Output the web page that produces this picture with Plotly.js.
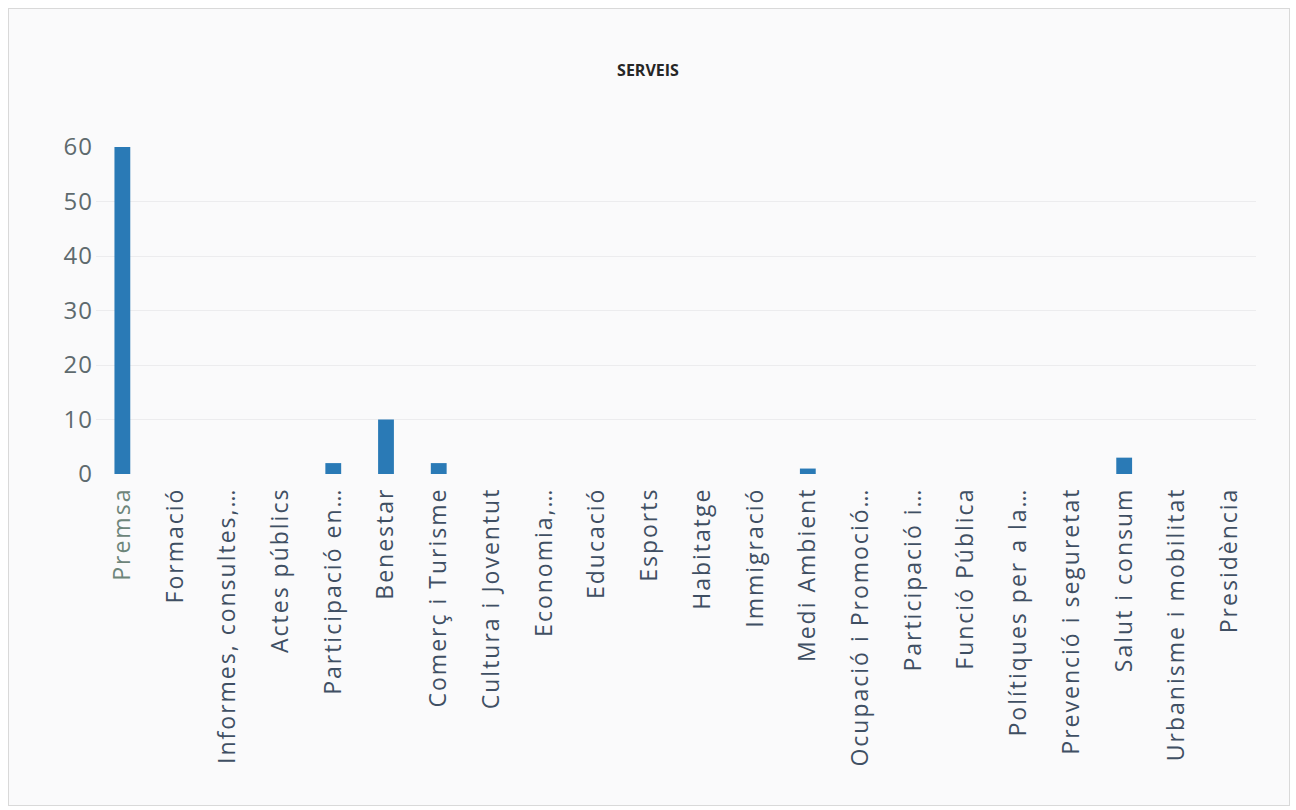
<!DOCTYPE html>
<html>
<head>
<meta charset="utf-8">
<script src="https://cdn.plot.ly/plotly-3.0.1.min.js"></script>
<style>
html,body{margin:0;padding:0;background:#ffffff;}
#wrap{position:absolute;left:8px;top:8px;width:1280px;height:796px;border:1px solid #d9d9d9;background:#fafafb;}
#chart{position:absolute;left:-9px;top:-9px;width:1296px;height:810px;}
#chart .xtick text{letter-spacing:2px;}
#chart .ytick text{letter-spacing:1px;}
</style>
</head>
<body>
<div id="wrap"><div id="chart"></div></div>
<script>
const categories = [
  "Premsa","Formació","Informes, consultes,…","Actes públics","Participació en…",
  "Benestar","Comerç i Turisme","Cultura i Joventut","Economia,…","Educació",
  "Esports","Habitatge","Immigració","Medi Ambient","Ocupació i Promoció…",
  "Participació i…","Funció Pública","Polítiques per a la…","Prevenció i seguretat",
  "Salut i consum","Urbanisme i mobilitat","Presidència"
];
const values = [60,0,0,0,2,10,2,0,0,0,0,0,0,1,0,0,0,0,0,3,0,0];
const yTicks = [0,10,20,30,40,50,60];

const tickText = categories.map((c, i) => i === 0 ? '<span style="color:#6d857a">' + c + '</span>' : c);

Plotly.newPlot('chart', [{
  type: 'bar',
  x: categories,
  y: values,
  marker: {color: '#2a7ab6'},
  hoverinfo: 'x+y'
}], {
  width: 1296, height: 810,
  paper_bgcolor: 'rgba(0,0,0,0)',
  plot_bgcolor: 'rgba(0,0,0,0)',
  margin: {l: 96, r: 40, t: 147, b: 336, pad: 0},
  bargap: 0.7,
  title: {text: '<b>SERVEIS</b>', x: 0.5, xanchor: 'center', y: 0.913, yanchor: 'middle',
          font: {family: 'Open Sans, Lato, sans-serif', size: 16, color: '#262626'}},
  xaxis: {
    type: 'category',
    tickmode: 'array',
    tickvals: categories,
    ticktext: tickText,
    tickangle: -90,
    tickfont: {family: 'Open Sans, Lato, sans-serif', size: 23, color: '#3f4f63'},
    showgrid: false, zeroline: false, showline: false, ticks: '',
    ticklabelstandoff: 8,
    automargin: false
  },
  yaxis: {
    range: [0, 60],
    tickvals: yTicks,
    tickfont: {family: 'Open Sans, Lato, sans-serif', size: 24, color: '#5e6a6e'},
    gridcolor: '#ececee', gridwidth: 1,
    zeroline: false, showline: false, ticks: '',
    ticklabelstandoff: 2,
    automargin: false
  },
  showlegend: false,
  font: {family: 'Open Sans, Lato, sans-serif'}
}, {displayModeBar: false, staticPlot: true});
</script>
</body>
</html>
